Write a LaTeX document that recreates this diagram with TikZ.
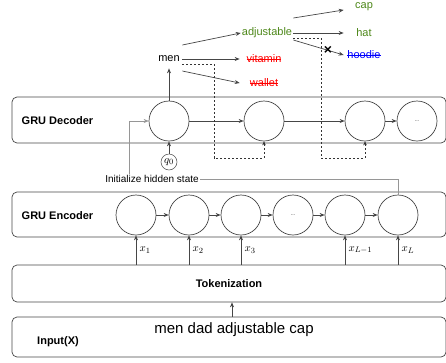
\documentclass[tikz,border=0pt]{standalone}
\usepackage{fontspec}
\setmainfont{Liberation Sans}
\usetikzlibrary{arrows.meta}
\definecolor{verde}{RGB}{77,135,25}
\definecolor{linha}{RGB}{70,70,70}
\definecolor{fina}{RGB}{150,150,150}
\newcommand{\riscada}[2]{\textcolor{#1}{\setbox0\hbox{#2}\rlap{\rule[0.27em]{\wd0}{0.7pt}}\box0}}
\newcommand{\rotulo}[1]{\fontsize{11}{13}\selectfont\bfseries #1}

\begin{document}
\begin{tikzpicture}[x=1pt,y=-1pt,line width=0.7pt,
    cel/.style={draw=linha,circle,minimum size=40pt,inner sep=0pt},
    camada/.style={draw=linha,rounded corners=5pt,minimum width=434pt,inner sep=0pt},
    seta/.style={draw=linha,-{Stealth[length=5pt,width=4pt]}},
    palavra/.style={font=\fontsize{11}{13}\selectfont,inner sep=0pt,minimum height=14pt},
    tracejada/.style={draw=black!80,line width=0.45pt,dash pattern=on 2pt off 2pt}]
    \useasboundingbox (0,0) rectangle (446,362);

    % camadas
    \node[camada,minimum height=46pt] (dec) at (229,120) {};
    \node[camada,minimum height=45pt] (enc) at (229,214.5) {};
    \node[camada,minimum height=37pt] (tok) at (229,283.5) {\rotulo{Tokenization}};
    \node[camada,minimum height=40pt] (inp) at (229,337) {};
    \node (tdec) at (57.5,121) {\rotulo{GRU Decoder}};
    \node (tenc) at (57.5,216) {\rotulo{GRU Encoder}};
    \node (tinp) at (58,342) {\rotulo{Input(X)}};
    \node[font=\fontsize{15}{18}\selectfont] (frase) at (234,330) {men dad adjustable cap};
    \draw[seta] ([xshift=3pt]inp.north) -- ([xshift=3pt]tok.south);

    % encoder
    \node[cel] (e1) at (136,215) {};
    \node[cel] (e2) at (189,215) {};
    \node[cel] (e3) at (241,215) {};
    \node[cel,font=\tiny] (e4) at (293,215) {...};
    \node[cel] (e5) at (345,215) {};
    \node[cel] (e6) at (398,215) {};
    \foreach \a/\b in {e1/e2,e2/e3,e3/e4,e4/e5,e5/e6}
      \draw[seta] (\a) -- (\b);
    \foreach \c/\x in {e1/x_1,e2/x_2,e3/x_3,e5/x_{L-1},e6/x_L}
      \draw[seta] (\c |- tok.north) -- node[right,font=\fontsize{11}{13}\selectfont]{$\x$} (\c.south);

    % decoder
    \node[cel] (d1) at (169,121) {};
    \node[cel] (d2) at (264,121) {};
    \node[cel] (d3) at (365,121) {};
    \node[cel,font=\tiny] (d4) at (417,121) {...};
    \draw[seta] (d1) -- (d2);
    \draw[seta] (d2) -- (d3);
    \draw[seta] (d3) -- (d4);
    \node[draw=linha,circle,minimum size=16pt,inner sep=0pt,line width=0.5pt,font=\fontsize{11}{13}\selectfont] (q0) at (169,162) {$q_0$};
    \draw[seta] (q0) -- (d1.south);

    \node[font=\fontsize{10}{12}\selectfont,inner sep=1pt] (ini) at (152,179) {Initialize hidden state};
    \draw[fina,line width=0.5pt] (ini.east) -| (e6.north);
    \coordinate (h) at (129,174);
    \draw[fina,line width=0.5pt,-{Stealth[length=5pt,width=4pt]}] (h) |- (d1.west);

    % palavras
    \node[palavra,minimum width=26pt,minimum height=18pt] (men) at (169,59) {men};
    \node[palavra,minimum width=48pt] (vit) at (264,59) {\riscada{red}{vitamin}};
    \node[palavra,minimum width=48pt] (wal) at (264,83) {\riscada{red}{wallet}};
    \node[palavra,minimum width=52pt,text=verde] (adj) at (267,33) {adjustable};
    \node[palavra,minimum width=40pt,text=verde] (cap) at (364,7) {cap};
    \node[palavra,minimum width=40pt,text=verde] (hat) at (364,33) {hat};
    \node[palavra,minimum width=40pt] (hoo) at (364,55) {\riscada{blue}{hoodie}};

    \draw[seta] (d1.north) -- (men.south);
    \draw[seta] ([yshift=14pt]men.east) -- (adj.west);
    \draw[seta] (men.east) -- (vit.west);
    \draw[seta] ([yshift=-12pt]men.east) -- (wal.west);
    \draw[seta] ([yshift=15pt]adj.east) -- ([yshift=-3pt]cap.west);
    \draw[seta] (adj.east) -- (hat.west);
    \draw[seta] ([yshift=-7pt]adj.east) -- node[pos=0.69,font=\fontsize{14}{14}\selectfont\bfseries,inner sep=0pt]{×} (hoo.west);

    \coordinate (m1) at (214,158);
    \coordinate (m2) at (321,158);
    \draw[tracejada,-{Stealth[length=4pt,width=3.5pt]}] ([yshift=-5pt]men.east) -| (m1) -| (d2.south);
    \draw[tracejada,-{Stealth[length=4pt,width=3.5pt]}] ([yshift=-5pt]adj.east) -| (m2) -| (d3.south);
\end{tikzpicture}
\end{document}
